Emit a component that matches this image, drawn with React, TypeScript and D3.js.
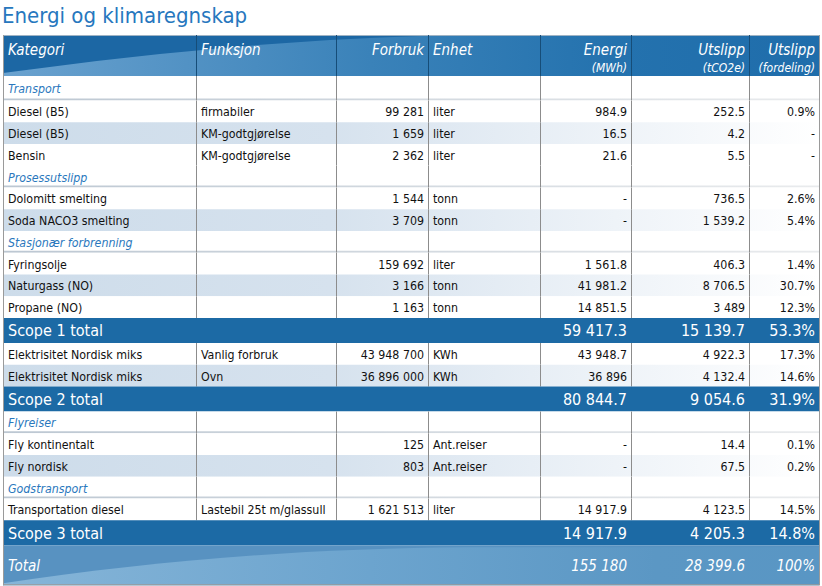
import React from "react";
import * as d3 from "d3";

// rows of the table, top to bottom
const categories = [
  "Transport", "Diesel (B5)", "Diesel (B5)", "Bensin",
  "Prosessutslipp", "Dolomitt smelting", "Soda NACO3 smelting",
  "Stasjonær forbrenning", "Fyringsolje", "Naturgass (NO)", "Propane (NO)",
  "Scope 1 total",
  "Elektrisitet Nordisk miks", "Elektrisitet Nordisk miks",
  "Scope 2 total",
  "Flyreiser", "Fly kontinentalt", "Fly nordisk",
  "Godstransport", "Transportation diesel",
  "Scope 3 total",
  "Total",
];
// sec = section title, row = plain, alt = shaded, scope = subtotal, total = grand total
const kinds = [
  "sec", "row", "alt", "row",
  "sec", "row", "alt",
  "sec", "row", "alt", "row",
  "scope",
  "row", "alt",
  "scope",
  "sec", "row", "alt",
  "sec", "row",
  "scope",
  "total",
];
const funksjon = [
  "", "firmabiler", "KM-godtgjørelse", "KM-godtgjørelse",
  "", "", "",
  "", "", "", "",
  "",
  "Vanlig forbruk", "Ovn",
  "",
  "", "", "",
  "", "Lastebil 25t m/glassull",
  "",
  "",
];
const forbruk = [
  null, 99281, 1659, 2362,
  null, 1544, 3709,
  null, 159692, 3166, 1163,
  null,
  43948700, 36896000,
  null,
  null, 125, 803,
  null, 1621513,
  null,
  null,
];
const enhet = [
  "", "liter", "liter", "liter",
  "", "tonn", "tonn",
  "", "liter", "tonn", "tonn",
  "",
  "KWh", "KWh",
  "",
  "", "Ant.reiser", "Ant.reiser",
  "", "liter",
  "",
  "",
];
// energi (MWh), null = "-"
const energi = [
  null, 984.9, 16.5, 21.6,
  null, null, null,
  null, 1561.8, 41981.2, 14851.5,
  59417.3,
  43948.7, 36896,
  80844.7,
  null, null, null,
  null, 14917.9,
  14917.9,
  155180,
];
// utslipp (tCO2e)
const utslipp = [
  null, 252.5, 4.2, 5.5,
  null, 736.5, 1539.2,
  null, 406.3, 8706.5, 3489,
  15139.7,
  4922.3, 4132.4,
  9054.6,
  null, 14.4, 67.5,
  null, 4123.5,
  4205.3,
  28399.6,
];
// utslipp fordeling (%)
const fordeling = [
  null, 0.9, null, null,
  null, 2.6, 5.4,
  null, 1.4, 30.7, 12.3,
  53.3,
  17.3, 14.6,
  31.9,
  null, 0.1, 0.2,
  null, 14.5,
  14.8,
  100,
];

const headers = [
  { t: "Kategori", sub: "", align: "start" },
  { t: "Funksjon", sub: "", align: "start" },
  { t: "Forbruk", sub: "", align: "end" },
  { t: "Enhet", sub: "", align: "start" },
  { t: "Energi", sub: "(MWh)", align: "end" },
  { t: "Utslipp", sub: "(tCO2e)", align: "end" },
  { t: "Utslipp", sub: "(fordeling)", align: "end" },
];

const W = 822;
const H = 586;
const left = 3;
const right = 819;
const colEdges = [left, 196, 336, 428, 540, 631, 749, right];
const headTop = 35;
const headH = 41;
const FONT = "'DejaVu Sans Condensed', 'DejaVu Sans', sans-serif";

const loc = d3.formatLocale({ decimal: ".", thousands: " ", grouping: [3], currency: ["", ""] });
const fmtNum = loc.format(",.1~f");
const fmtInt = loc.format(",d");

const rowH = (k: string, i: number) =>
  k === "scope" ? 25 : k === "total" ? 40 : i === 0 ? 24.5 : 21.75;

export default function App() {
  const heights = kinds.map(rowH);
  const ys = [headTop + headH, ...Array.from(d3.cumsum(heights)).map((c) => headTop + headH + c)];
  const bottom = ys[ys.length - 1];

  const cellX = (c: number, align: string) =>
    align === "end" ? colEdges[c + 1] - 4 : colEdges[c] + 5;

  const cells = (i: number) => {
    const k = kinds[i];
    if (k === "sec") return [];
    const dash = (v: number | null, f: (n: number) => string, suffix = "") =>
      v == null ? "-" : f(v) + suffix;
    const out: { c: number; t: string; align: string }[] = [
      { c: 0, t: categories[i], align: "start" },
    ];
    if (k === "row" || k === "alt") {
      out.push({ c: 1, t: funksjon[i], align: "start" });
      out.push({ c: 2, t: dash(forbruk[i], fmtInt), align: "end" });
      out.push({ c: 3, t: enhet[i], align: "start" });
    }
    out.push({ c: 4, t: dash(energi[i], fmtNum), align: "end" });
    out.push({ c: 5, t: dash(utslipp[i], fmtNum), align: "end" });
    out.push({ c: 6, t: dash(fordeling[i], fmtNum, "%"), align: "end" });
    return out;
  };

  return (
    <svg
      width={W}
      height={H}
      style={{ position: "absolute", left: 0, top: 0, background: "#fff" }}
      fontFamily={FONT}
    >
      <defs>
        <linearGradient id="altFill" x1={left} x2={right} y1={0} y2={0} gradientUnits="userSpaceOnUse">
          <stop offset="0" stopColor="#cddcea" />
          <stop offset="0.4" stopColor="#d6e2ee" />
          <stop offset="0.75" stopColor="#eef3f8" />
          <stop offset="1" stopColor="#ffffff" />
        </linearGradient>
        <linearGradient id="secLine" x1={left} x2={right} y1={0} y2={0} gradientUnits="userSpaceOnUse">
          <stop offset="0" stopColor="#bcc7d2" />
          <stop offset="1" stopColor="#e9ebed" />
        </linearGradient>
        <linearGradient id="headLight" x1={left} x2={right} y1={0} y2={0} gradientUnits="userSpaceOnUse">
          <stop offset="0" stopColor="#6aa2cf" />
          <stop offset="0.45" stopColor="#3a82b9" />
          <stop offset="0.75" stopColor="#2472ae" />
          <stop offset="1" stopColor="#1f6dab" />
        </linearGradient>
        <linearGradient id="totLight" x1={left} x2={right} y1={0} y2={0} gradientUnits="userSpaceOnUse">
          <stop offset="0" stopColor="#86b5d8" />
          <stop offset="0.45" stopColor="#6ca4ce" />
          <stop offset="0.8" stopColor="#5b97c4" />
          <stop offset="1" stopColor="#5996c4" />
        </linearGradient>
      </defs>

      <text x={2} y={23} fontSize={22} fill="#2677be">
        Energi og klimaregnskap
      </text>

      {/* header */}
      <rect x={left} y={headTop} width={right - left} height={headH} fill="#1c67a4" />
      <path
        d={`M${left},${headTop + headH} L${left},${headTop + 38} C150,${headTop + 18} 300,${headTop + 3} 460,${headTop} L${right},${headTop} L${right},${headTop + headH} Z`}
        fill="url(#headLight)"
      />
      <line x1={left} x2={right} y1={headTop + 0.5} y2={headTop + 0.5} stroke="#9fb3c4" />
      {colEdges.slice(1, -1).map((x) => (
        <line key={x} x1={x + 0.5} x2={x + 0.5} y1={headTop} y2={headTop + headH} stroke="#164d78" />
      ))}
      {headers.map((h, c) => (
        <g key={c} fill="#fff" fontStyle="italic" textAnchor={h.align}>
          <text x={cellX(c, h.align)} y={headTop + 20} fontSize={15}>
            {h.t}
          </text>
          {h.sub && (
            <text x={cellX(c, h.align)} y={headTop + 37} fontSize={12}>
              {h.sub}
            </text>
          )}
        </g>
      ))}

      {/* body */}
      {kinds.map((k, i) => {
        const y0 = ys[i];
        const h = heights[i];
        const mid = y0 + h / 2;
        if (k === "scope" || k === "total") {
          const fs = k === "scope" ? 16 : 15;
          return (
            <g key={i}>
              <rect x={left} y={y0} width={right - left} height={h} fill={k === "scope" ? "#1c6aa5" : "#5892c1"} />
              {k === "total" && (
                <path
                  d={`M${left},${y0 + h} L${left},${y0 + h - 2} C150,${y0 + 16} 300,${y0 + 3} 470,${y0 + 2} L${right},${y0 + 2} L${right},${y0 + h} Z`}
                  fill="url(#totLight)"
                />
              )}
              {cells(i).map((d) => (
                <text
                  key={d.c}
                  x={cellX(d.c, d.align)}
                  y={mid + fs * 0.36}
                  fontSize={fs}
                  fill="#fff"
                  fontStyle={k === "total" ? "italic" : "normal"}
                  textAnchor={d.align}
                >
                  {d.t}
                </text>
              ))}
            </g>
          );
        }
        return (
          <g key={i}>
            <rect x={left} y={y0} width={right - left} height={h} fill={k === "alt" ? "url(#altFill)" : "#fff"} />
            {k === "sec" && (
              <>
                <rect x={left} y={y0 + h - 2} width={right - left} height={2} fill="url(#secLine)" />
                <text x={cellX(0, "start")} y={mid + 5} fontSize={12.3} fontStyle="italic" fill="#2a78bd">
                  {categories[i]}
                </text>
              </>
            )}
            {colEdges.slice(1, -1).map((x) => (
              <line key={x} x1={x + 0.5} x2={x + 0.5} y1={y0} y2={y0 + h} stroke="#8c8c8c" />
            ))}
            {cells(i).map((d) => (
              <text key={d.c} x={cellX(d.c, d.align)} y={mid + 5} fontSize={12.3} fill="#111" textAnchor={d.align}>
                {d.t}
              </text>
            ))}
          </g>
        );
      })}

      {/* outer frame */}
      <line x1={left + 0.5} x2={left + 0.5} y1={headTop} y2={bottom} stroke="#9a9a9a" />
      <line x1={right + 0.5} x2={right + 0.5} y1={headTop} y2={bottom} stroke="#9a9a9a" />
      <line x1={left} x2={right + 1} y1={bottom - 0.5} y2={bottom - 0.5} stroke="#9a9a9a" />
    </svg>
  );
}
